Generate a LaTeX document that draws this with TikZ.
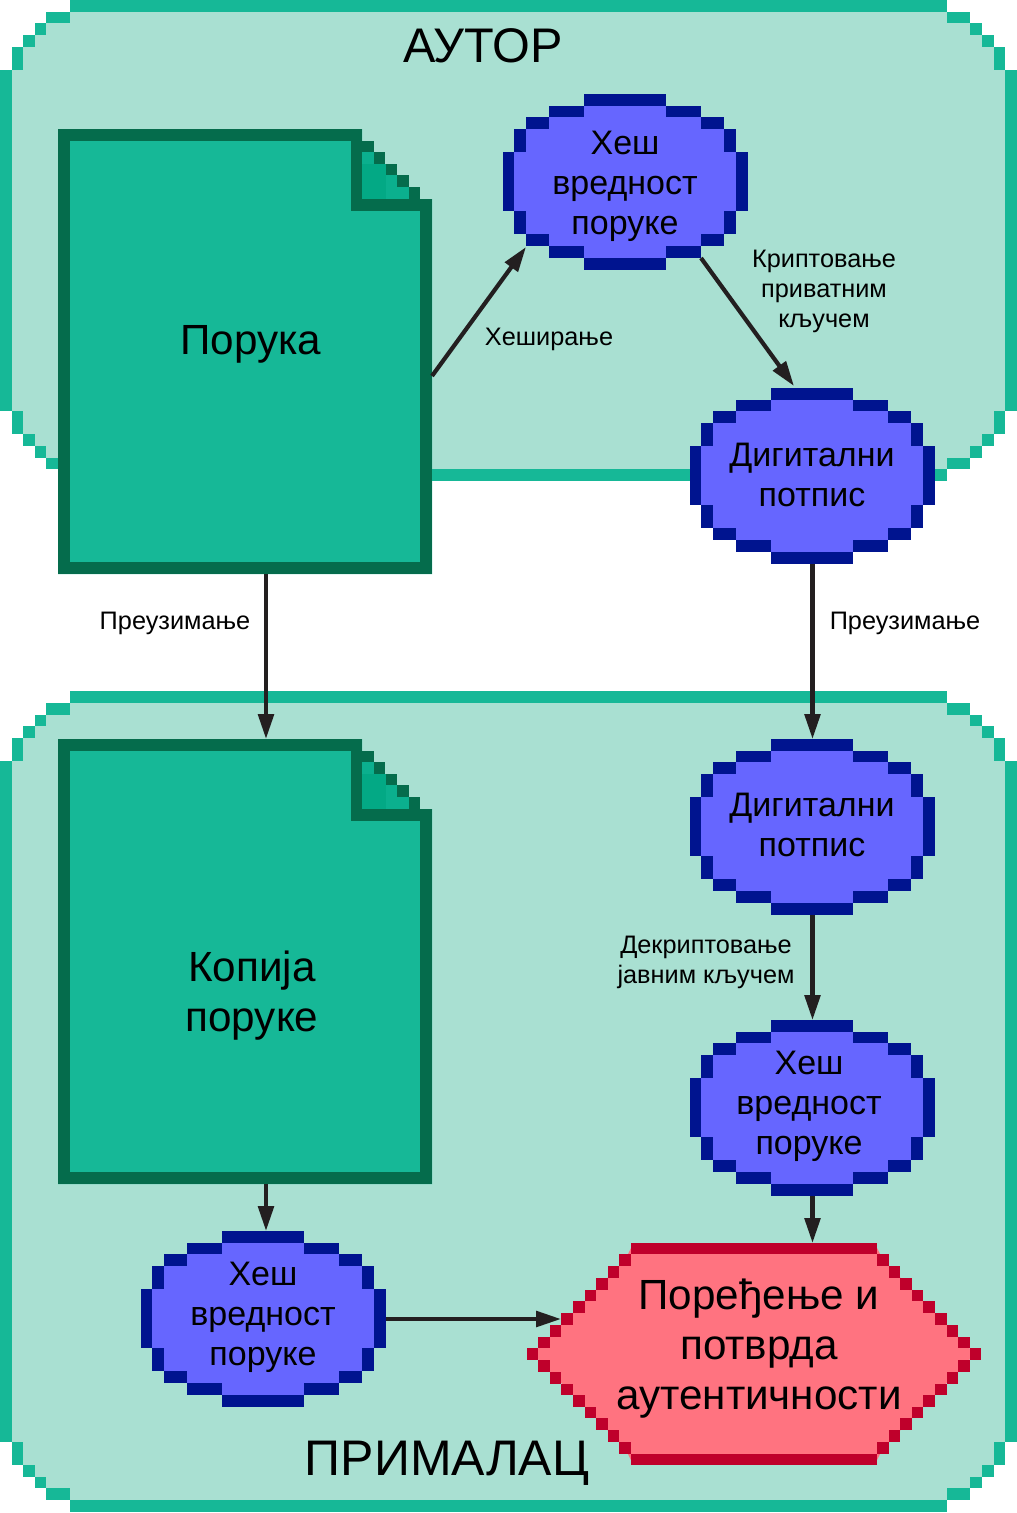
\documentclass[tikz,border=0pt]{standalone}
\usepackage{fontspec}
\setmainfont{Liberation Sans}
\usetikzlibrary{arrows.meta,calc}
\definecolor{panelfill}{HTML}{A9E0D2}
\definecolor{panelline}{HTML}{16B897}
\definecolor{docline}{HTML}{056C4C}
\definecolor{foldfill}{HTML}{03A985}
\definecolor{foldlight}{HTML}{0BB08E}
\definecolor{blobfill}{HTML}{6666FF}
\definecolor{blobline}{HTML}{00148F}
\definecolor{cmpfill}{HTML}{FF7380}
\definecolor{cmpline}{HTML}{BF002B}
\definecolor{arrowcol}{HTML}{231F20}
\newcommand{\cellsrun}[2]{\foreach \a/\b/\c/\d in {#2}{\fill[#1] (\a,\b) rectangle (\c,\d);}}
\newcommand{\blobshape}[3]{%
  \begin{scope}[shift={(#1,#2)}]
  \cellsrun{blobfill}{81/0/163/176,46/12/198/164,23/23/221/152,11/35/233/140,0/58/245/117}
  \cellsrun{blobline}{81/0/163/12,46/12/81/23,163/12/198/23,23/23/46/35,198/23/221/35,11/35/23/58,221/35/233/58,0/58/11/117,233/58/245/117,11/117/23/140,221/117/233/140,23/140/46/152,198/140/221/152,46/152/81/164,163/152/198/164,81/164/163/176}
  \node[boxarea,minimum width=245pt,minimum height=176pt] (#3) at (122.5,88) {};
  \end{scope}}
\newcommand{\docshape}[3]{%
  \begin{scope}[shift={(#1,#2)}]
  \fill[panelline] (0,0) -- (304,0) -- (304,70) -- (374,70) -- (374,445) -- (0,445) -- cycle;
  \cellsrun{foldfill}{304/35/328/46,304/46/328/58,304/58/328/70}
  \cellsrun{foldlight}{304/23/316/35,328/46/339/58,328/58/351/70}
  \cellsrun{docline}{0/0/304/12,0/12/12/445,0/433/374/445,362/70/374/445,293/0/304/82,293/12/316/23,316/23/327/35,328/35/339/46,339/46/351/58,351/58/362/70,293/70/362/82}
  \node[boxarea,minimum width=374pt,minimum height=445pt] (#3) at (187,222.5) {};
  \end{scope}}
\tikzset{
  x=1pt,y=-1pt,
  boxarea/.style={inner sep=0pt,outer sep=0pt,draw=none},
  txt/.style={inner sep=0pt,outer sep=0pt,align=center,text=black},
  lab/.style={txt,font=\fontsize{25.3}{30}\selectfont},
  blobtxt/.style={txt,font=\fontsize{34}{40}\selectfont},
  bigtxt/.style={txt,font=\fontsize{42.2}{50}\selectfont},
  hugetxt/.style={txt,font=\fontsize{48.6}{56}\selectfont},
  hugertxt/.style={txt,font=\fontsize{50}{56}\selectfont},
  conn/.style={draw=arrowcol,line width=4.2pt,-{Triangle[length=25pt,width=15.5pt]},shorten >=0pt,shorten <=0pt},
}
\begin{document}
\begin{tikzpicture}
\useasboundingbox (0,0) rectangle (1017,1513);
% top panel
\cellsrun{panelfill}{70/0/947/481,46/12/970/469,35/23/982/458,23/35/994/446,12/47/1005/434,0/70/1017/411}
\cellsrun{panelline}{70/0/947/12,46/12/70/23,947/12/970/23,35/23/46/35,970/23/982/35,23/35/35/47,982/35/994/47,12/47/23/70,994/47/1005/70,0/70/12/411,1005/70/1017/411,12/411/23/434,994/411/1005/434,23/434/35/446,982/434/994/446,35/446/46/458,970/446/982/458,46/458/70/469,947/458/970/469,70/469/947/481}
% bottom panel
\cellsrun{panelfill}{70/691/947/1512,46/703/970/1500,35/715/982/1488,23/726/994/1477,12/738/1005/1465,0/761/1017/1442}
\cellsrun{panelline}{70/691/947/703,46/703/70/715,947/703/970/715,35/715/46/726,970/715/982/726,23/726/35/738,982/726/994/738,12/738/23/761,994/738/1005/761,0/761/12/1442,1005/761/1017/1442,12/1442/23/1465,994/1442/1005/1465,23/1465/35/1477,982/1465/994/1477,35/1477/46/1488,970/1477/982/1488,46/1488/70/1500,947/1488/970/1500,70/1500/947/1512}
% documents
\docshape{58}{129}{doca}
\docshape{58}{739}{docb}
% blobs
\blobshape{503}{94}{hasha}
\blobshape{690}{388}{siga}
\blobshape{690}{739}{sigb}
\blobshape{690}{1020}{hashb}
\blobshape{141}{1231}{hashc}
% compare hexagon
\fill[cmpfill] (631,1248) -- (625,1260) -- (533,1354) -- (625,1448) -- (631,1460) -- (877,1460) -- (883,1448) -- (975,1354) -- (883,1260) -- (877,1248) -- cycle;
\cellsrun{cmpline}{631/1243/877/1254,631/1454/877/1465,619/1254/631/1266,608/1266/619/1278,596/1278/608/1290,585/1290/596/1301,573/1301/585/1313,561/1313/573/1325,550/1325/561/1337,538/1337/550/1348,527/1348/538/1360,538/1360/550/1372,550/1372/561/1384,561/1384/573/1395,573/1395/585/1407,585/1407/596/1418,596/1418/608/1430,608/1430/619/1442,619/1442/631/1454,877/1254/889/1266,889/1266/900/1278,900/1278/912/1290,912/1290/923/1301,923/1301/935/1313,935/1313/947/1325,947/1325/958/1337,958/1337/970/1348,970/1348/981/1360,958/1360/970/1372,947/1372/958/1384,935/1384/947/1395,923/1395/935/1407,912/1407/923/1418,900/1418/912/1430,889/1430/900/1442,877/1442/889/1454}
\node[boxarea,minimum width=454pt,minimum height=222pt] (cmp) at (754,1354) {};
% texts
\node[hugetxt] (tautor) at (483,46) {АУТОР};
\node[hugertxt] (tprim) at (447,1463) {ПРИМАЛАЦ};
\node[bigtxt] (tdoca) at (251,344.5) {Порука};
\node[bigtxt] (tdocb) at (252,995.5) {Копија\\поруке};
\node[blobtxt] (thasha) at (625,186) {Хеш\\вредност\\поруке};
\node[blobtxt] (tsiga) at (812,474.5) {Дигитални\\потпис};
\node[blobtxt] (tsigb) at (812,824.5) {Дигитални\\потпис};
\node[blobtxt] (thashb) at (809,1106) {Хеш\\вредност\\поруке};
\node[blobtxt] (thashc) at (263,1317) {Хеш\\вредност\\поруке};
\node[bigtxt] (tcmp) at (759,1349) {Поређење и\\потврда\\аутентичности};
\node[lab] (l1) at (549,339.5) {Хеширање};
\node[lab] (l2) at (824,291.5) {Криптовање\\приватним\\кључем};
\node[lab] (l3) at (175,623.5) {Преузимање};
\node[lab] (l4) at (905,623.5) {Преузимање};
\node[lab] (l5) at (706,962.5) {Декриптовање\\јавним кључем};
% connectors
\coordinate (d1) at ($(doca.south)+(21,0)$);
\coordinate (d2) at ($(docb.north)+(21,0)$);
\coordinate (d3) at ($(docb.south)+(21,0)$);
\coordinate (d4) at ($(hashc.north)+(2.5,0)$);
\coordinate (e1) at ($(doca.north east)+(0,247)$);
\coordinate (e2) at ($(hasha.south west)+(23,-23)$);
\coordinate (e3) at ($(hasha.south east)+(-47,-12)$);
\coordinate (e4) at ($(siga.north west)+(104,-2)$);
\draw[conn] (e1) -- (e2);
\draw[conn] (e3) -- (e4);
\draw[conn] (siga.south) -- (sigb.north);
\draw[conn] (d1) -- (d2);
\draw[conn] (sigb.south) -- (hashb.north);
\draw[conn] (d3) -- (d4);
\draw[conn] (hashb.south) -- (cmp.north -| hashb.south);
\draw[conn] (hashc.east |- 0,1319) -- (561,1319);
\end{tikzpicture}
\end{document}
